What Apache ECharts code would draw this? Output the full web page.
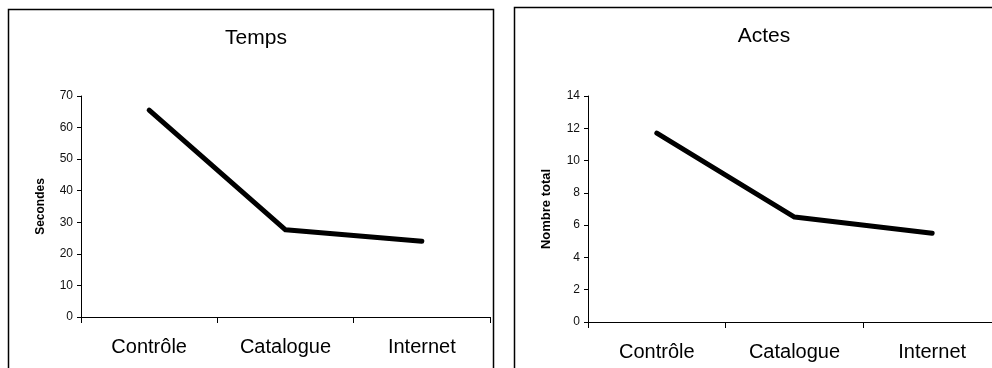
<!DOCTYPE html>
<html>
<head>
<meta charset="utf-8">
<script src="https://cdn.jsdelivr.net/npm/echarts@6/dist/echarts.min.js"></script>
<style>
  html, body { margin: 0; padding: 0; background: #fff; }
  #charts { width: 992px; height: 368px; }
</style>
</head>
<body>
<div id="charts"></div>
<script>
const categories = ['Contrôle', 'Catalogue', 'Internet']
const temps = [65.5, 27.6, 24.0]
const actes = [11.7, 6.5, 5.5]
const tempsTicks = { min: 0, max: 70, interval: 10 }
const actesTicks = { min: 0, max: 14, interval: 2 }

const font = 'Liberation Sans, Arial, sans-serif'

function xAxisFor(idx) {
    return {
        type: 'category',
        gridIndex: idx,
        data: categories,
        boundaryGap: true,
        axisLine: { lineStyle: { color: '#000', width: 1 } },
        axisTick: { show: true, length: 6, lineStyle: { color: '#000' } },
        axisLabel: { color: '#000', fontSize: 20, fontFamily: font, margin: 20 }
    }
}

function yAxisFor(idx, ticks, name, nameSize, gap) {
    return {
        type: 'value',
        gridIndex: idx,
        min: ticks.min,
        max: ticks.max,
        interval: ticks.interval,
        name: name,
        nameLocation: 'middle',
        nameRotate: 90,
        nameGap: gap,
        nameTextStyle: { color: '#000', fontSize: nameSize, fontWeight: 'bold', fontFamily: font },
        axisLine: { show: true, lineStyle: { color: '#000', width: 1 } },
        axisTick: { show: true, length: 4, lineStyle: { color: '#000' } },
        axisLabel: { color: '#111', fontSize: 12, fontFamily: font, margin: 8 },
        splitLine: { show: false }
    }
}

const lineStyle = { color: '#000', width: 5, cap: 'round', join: 'round' }

let chart = echarts.init(document.getElementById('charts'))
chart.setOption({
    animation: false,
    title: [
        { text: 'Temps', left: 251, top: 23, textAlign: 'center',
          textStyle: { color: '#000', fontSize: 21, fontWeight: 'normal', fontFamily: font } },
        { text: 'Actes', left: 759, top: 21, textAlign: 'center',
          textStyle: { color: '#000', fontSize: 21, fontWeight: 'normal', fontFamily: font } }
    ],
    graphic: [
        { type: 'rect', shape: { x: 8.5, y: 9.5, width: 485, height: 420 },
          style: { fill: 'none', stroke: '#000', lineWidth: 1.5 } },
        { type: 'rect', shape: { x: 514.5, y: 7.5, width: 500, height: 420 },
          style: { fill: 'none', stroke: '#000', lineWidth: 1.5 } }
    ],
    grid: [
        { left: 81, top: 96, width: 409, height: 221, containLabel: false, outerBoundsMode: 'none' },
        { left: 588, top: 96, width: 413, height: 226, containLabel: false, outerBoundsMode: 'none' }
    ],
    xAxis: [xAxisFor(0), xAxisFor(1)],
    yAxis: [
        yAxisFor(0, tempsTicks, 'Secondes', 12, 34),
        yAxisFor(1, actesTicks, 'Nombre total', 13, 35)
    ],
    series: [
        { type: 'line', xAxisIndex: 0, yAxisIndex: 0, data: temps, symbol: 'none', lineStyle: lineStyle },
        { type: 'line', xAxisIndex: 1, yAxisIndex: 1, data: actes, symbol: 'none', lineStyle: lineStyle }
    ]
});
</script>
</body>
</html>
